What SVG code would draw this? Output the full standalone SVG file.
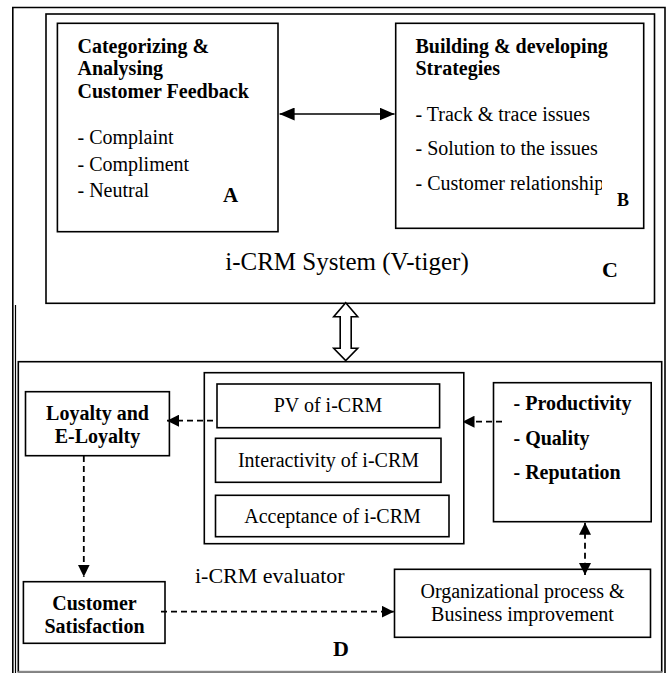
<svg xmlns="http://www.w3.org/2000/svg" width="667" height="673" viewBox="0 0 667 673">
<style>
  .box { fill: #fff; stroke: #000; stroke-width: 1.6; }
  .frame { fill: none; stroke: #000; stroke-width: 1.6; }
  .t { font-family: "Liberation Serif", "Times New Roman", serif; font-size: 20px; fill: #000; }
  .b { font-weight: bold; }
  .m { text-anchor: middle; }
  .solid { stroke: #000; stroke-width: 1.6; fill: none; }
  .dash { stroke: #000; stroke-width: 1.8; fill: none; stroke-dasharray: 6 4; }
</style>
<defs>
  <marker id="ah" viewBox="0 0 12 12" refX="12" refY="6" markerWidth="12" markerHeight="12" markerUnits="userSpaceOnUse" orient="auto-start-reverse">
    <path d="M0,0 L12,6 L0,12 z" fill="#000"/>
  </marker>
  <marker id="ah2" viewBox="0 0 15 13" refX="15" refY="6.5" markerWidth="15" markerHeight="13" markerUnits="userSpaceOnUse" orient="auto-start-reverse">
    <path d="M0,0 L15,6.5 L0,13 z" fill="#000"/>
  </marker>
  <clipPath id="clipB"><rect x="396" y="24" width="206" height="204"/></clipPath>
</defs>
<rect width="667" height="673" fill="#fff"/>

<!-- outer frame -->
<g id="frame">
  <path class="frame" d="M12.8,680 V7.5 H665 V680"/>
  <line x1="15.5" y1="305" x2="15.5" y2="673" stroke="#000" stroke-width="1.2"/>
</g>

<!-- C: i-CRM System -->
<g id="nodeC">
  <rect class="box" x="46" y="14" width="608.5" height="289.3"/>
  <text class="t m" x="347" y="270" style="font-size:25px">i-CRM System (V-tiger)</text>
  <text class="t b" x="602" y="277" style="font-size:22px">C</text>
</g>

<g id="nodeA">
  <rect class="box" x="57.4" y="23.3" width="220.6" height="208.4"/>
  <text class="t b" x="77.5" y="52.7">Categorizing &amp;</text>
  <text class="t b" x="77.5" y="75">Analysing</text>
  <text class="t b" x="77.5" y="97.7">Customer Feedback</text>
  <text class="t" x="77.5" y="144">- Complaint</text>
  <text class="t" x="77.5" y="171">- Compliment</text>
  <text class="t" x="77.5" y="197.3">- Neutral</text>
  <text class="t b" x="223" y="201.7" style="font-size:21px">A</text>
</g>

<g id="nodeB">
  <rect class="box" x="395.7" y="23.3" width="248" height="205"/>
  <text class="t b" x="415.5" y="52.7">Building &amp; developing</text>
  <text class="t b" x="415.5" y="75">Strategies</text>
  <text class="t" x="415.5" y="120.7">- Track &amp; trace issues</text>
  <text class="t" x="415.5" y="155">- Solution to the issues</text>
  <text class="t" x="415.5" y="190" clip-path="url(#clipB)">- Customer relationship</text>
  <text class="t b" x="617" y="206" style="font-size:18px">B</text>
</g>

<!-- D: i-CRM evaluator -->
<g id="nodeD">
  <rect x="18.3" y="361.7" width="643.4" height="310" fill="#fff" stroke="#000" stroke-width="1.6"/>
  <line x1="18.3" y1="671.7" x2="661.7" y2="671.7" stroke="#888" stroke-width="1.6"/>
  <text class="t" x="195" y="583.3" style="font-size:22px">i-CRM evaluator</text>
  <text class="t b" x="333" y="656" style="font-size:22px">D</text>
</g>

<g id="nodeContainer">
  <rect class="box" x="204.3" y="372.7" width="259.5" height="171"/>
</g>
<g id="nodePV">
  <rect class="box" x="217" y="384" width="222.6" height="43.7"/>
  <text class="t m" x="328" y="411.7">PV of i-CRM</text>
</g>
<g id="nodeInteractivity">
  <rect class="box" x="215.5" y="438.3" width="225.5" height="44"/>
  <text class="t m" x="328.5" y="466.7">Interactivity of i-CRM</text>
</g>
<g id="nodeAcceptance">
  <rect class="box" x="215.5" y="495.3" width="233.5" height="41.4"/>
  <text class="t m" x="332.5" y="522.7">Acceptance of i-CRM</text>
</g>

<g id="nodeLoyalty">
  <rect class="box" x="25.5" y="391.7" width="143.9" height="64"/>
  <text class="t b m" x="97.5" y="420">Loyalty and</text>
  <text class="t b m" x="97.5" y="442.7">E-Loyalty</text>
</g>

<g id="nodeProductivity">
  <rect class="box" x="493.5" y="382.7" width="157.7" height="139"/>
  <text class="t b" x="513.5" y="410">- Productivity</text>
  <text class="t b" x="513.5" y="445">- Quality</text>
  <text class="t b" x="513.5" y="479.3">- Reputation</text>
</g>

<g id="nodeSatisfaction">
  <rect class="box" x="23.4" y="581.7" width="141.6" height="61.6"/>
  <text class="t b m" x="94.5" y="610">Customer</text>
  <text class="t b m" x="94.5" y="633.3">Satisfaction</text>
</g>

<g id="nodeOrg">
  <rect class="box" x="394.5" y="569.3" width="256" height="68"/>
  <text class="t m" x="522.5" y="597.7">Organizational process &amp;</text>
  <text class="t m" x="522.5" y="620.7">Business improvement</text>
</g>

<!-- connectors -->
<g id="connectors">
  <line class="solid" x1="279.6" y1="114" x2="394.5" y2="114" marker-start="url(#ah2)" marker-end="url(#ah2)"/>
  <path d="M345.7,302.7 L357.7,316.7 L351.2,316.7 L351.2,348.3 L357.7,348.3 L345.7,360.5 L333.7,348.3 L340.2,348.3 L340.2,316.7 L333.7,316.7 Z" fill="#fff" stroke="#000" stroke-width="1.6" stroke-linejoin="miter"/>
  <line class="dash" x1="213" y1="420.7" x2="167" y2="420.7" marker-end="url(#ah)"/>
  <line class="dash" x1="502" y1="421.7" x2="462.5" y2="421.7" marker-end="url(#ah)"/>
  <line class="dash" x1="83.8" y1="456" x2="83.8" y2="576.7" marker-end="url(#ah)"/>
  <line class="dash" x1="585" y1="522.7" x2="585" y2="575" marker-start="url(#ah)" marker-end="url(#ah)"/>
  <line class="dash" x1="161" y1="611.7" x2="393.8" y2="611.7" marker-end="url(#ah)"/>
</g>
</svg>
